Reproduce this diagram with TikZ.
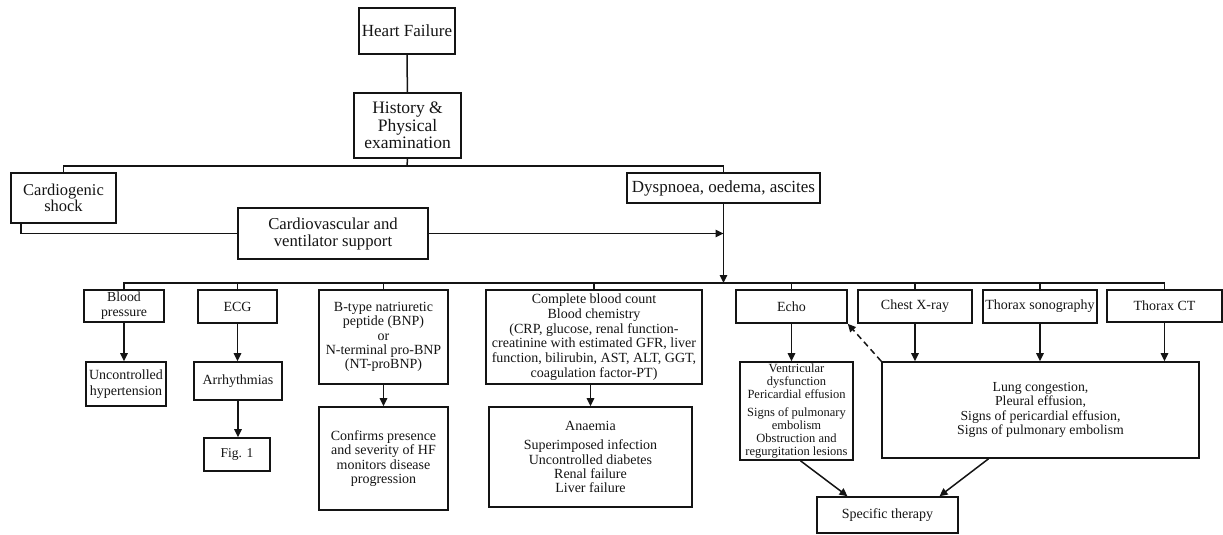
\documentclass[tikz,border=0pt]{standalone}
\usepackage{fontspec}
\setmainfont{Liberation Serif}
\usetikzlibrary{arrows.meta}
\definecolor{ink}{RGB}{20,20,20}
\begin{document}
\begin{tikzpicture}[x=1pt,y=-1pt,
  box/.style 2 args={draw=ink, line width=1.6pt, minimum width=#1pt, minimum height=#2pt, inner sep=0pt, align=center, text=ink},
  fs/.style 2 args={font=\fontsize{#1}{#2}\selectfont},
  ln/.style={draw=ink, line width=1.5pt},
  arrowline/.style={ln, -{Triangle[length=8pt,width=7.5pt]}}
]
\useasboundingbox (0,0) rectangle (1223,535);

% top part
\node[box={96}{46}, fs={17}{18}] (hf) at (407,31) {Heart Failure};
\node[box={107}{65}, fs={17.5}{17.5}] (hist) at (407.5,125.5) {History \&\\Physical\\examination};
\node[box={105}{50}, fs={16.5}{16.7}] (cs) at (63.5,198) {Cardiogenic\\shock};
\node[box={193}{30}, fs={17}{18}] (dys) at (723.5,188) {Dyspnoea, oedema, ascites};
\node[box={190}{51}, fs={16.7}{17}] (cv) at (333,233.5) {Cardiovascular and\\ventilator support};

% tests
\node[box={80}{32}, fs={13.8}{15}] (bp) at (124,306) {Blood\\pressure};
\node[box={79}{33}, fs={14}{15}] (ecg) at (237.5,306.5) {ECG};
\node[box={129}{94}, fs={14}{14.2}] (bnp) at (383.5,337) {B-type natriuretic\\peptide (BNP)\\or\\N-terminal pro-BNP\\(NT-proBNP)};
\node[box={216}{94}, fs={14}{14.7}] (cbc) at (594,337) {Complete blood count\\Blood chemistry\\(CRP, glucose, renal function-\\creatinine with estimated GFR, liver\\function, bilirubin, AST, ALT, GGT,\\coagulation factor-PT)};
\node[box={111}{33}, fs={14}{15}] (echo) at (791.5,306.5) {Echo};
\node[box={114}{33}, fs={14}{15}] (cxr) at (915,306.5) {Chest X-ray};
\node[box={114}{33}, fs={14}{15}] (sono) at (1040,306.5) {Thorax sonography};
\node[box={115}{32}, fs={14}{15}] (ct) at (1164.5,306) {Thorax CT};

% results
\node[box={80}{44}, fs={14}{16}] (unc) at (126,384) {Uncontrolled\\hypertension};
\node[box={88}{38}, fs={14}{15}] (arrh) at (238,381) {Arrhythmias};
\node[box={66}{33}, fs={13.5}{15}] (fig) at (237,454.5) {Fig. 1};
\node[box={129}{103}, fs={14}{14.2}] (conf) at (383.5,458.5) {Confirms presence\\and severity of HF\\monitors disease\\progression};
\node[box={203}{100}, fs={14}{14.4}] (ana) at (590.5,457) {Anaemia\\[5pt]Superimposed infection\\Uncontrolled diabetes\\Renal failure\\Liver failure};
\node[box={113}{98}, fs={12.5}{13}] (vent) at (796.5,411) {Ventricular\\dysfunction\\Pericardial effusion\\[5pt]Signs of pulmonary\\embolism\\Obstruction and\\regurgitation lesions};
\node[box={317}{96}, fs={13.8}{14.4}] (lung) at (1040.5,410) {Lung congestion,\\Pleural effusion,\\Signs of pericardial effusion,\\Signs of pulmonary embolism};
\node[box={141}{36}, fs={14}{15}] (spec) at (887.5,515) {Specific therapy};

% buses
\coordinate (busA) at (407,166);
\coordinate (busB) at (723.5,283);

\draw[ln] (hf) -- (hist);
\draw[ln] (hist.south) -- (busA);
\draw[ln] (cs.north) |- (busA) -| (dys.north);
\draw[ln] ([xshift=11pt]cs.south west) |- (cv.west);
\draw[arrowline] (cv.east) -- (cv.east -| dys.south);
\draw[arrowline] (dys.south) -- (busB);
\draw[ln] (bp.north) |- (busB) -| (ct.north);
\foreach \n in {ecg,bnp,cbc,echo,cxr,sono} \draw[ln] (\n.north) -- (\n.north |- busB);

% arrows
\draw[arrowline] (bp.south) -- (bp.south |- unc.north);
\draw[arrowline] (ecg.south) -- (ecg.south |- arrh.north);
\draw[arrowline] (arrh.south) -- (arrh.south |- fig.north);
\draw[arrowline] (bnp.south) -- (conf.north);
\draw[arrowline] (ana.north |- cbc.south) -- (ana.north);
\draw[arrowline] (echo.south) -- (echo.south |- vent.north);
\foreach \n in {cxr,sono,ct} \draw[arrowline] (\n.south) -- (\n.south |- lung.north);
\draw[arrowline, dash pattern=on 6pt off 4pt] (lung.north west) -- (echo.south east);
\draw[arrowline] ([xshift=4pt]vent.south) -- ([xshift=-40pt]spec.north);
\draw[arrowline] ([xshift=-52pt]lung.south) -- ([xshift=52pt]spec.north);
\end{tikzpicture}
\end{document}
